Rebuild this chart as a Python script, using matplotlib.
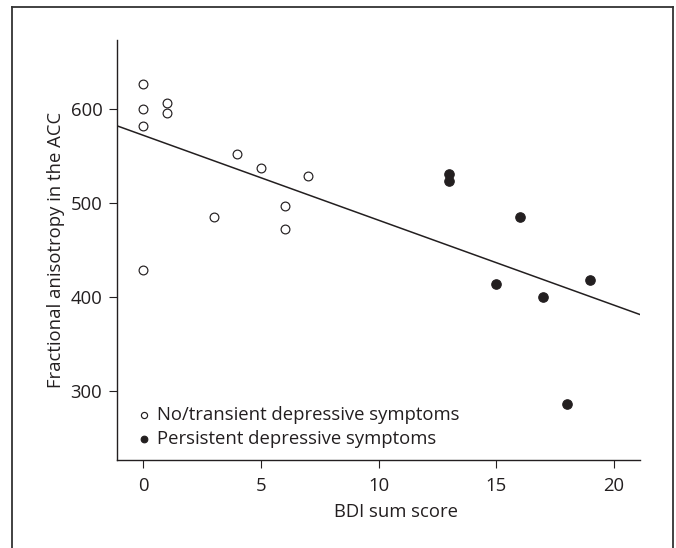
import numpy as np
import matplotlib
matplotlib.use("Agg")
import matplotlib.pyplot as plt
from matplotlib.lines import Line2D

plt.rcParams["font.family"] = ["Open Sans", "DejaVu Sans"]

# BDI sum score vs fractional anisotropy
bdi_transient = [0, 0, 0, 0, 1, 1, 3, 4, 5, 6, 6, 7]
fa_transient = [627, 600, 582, 429, 607, 596, 485, 552, 538, 497, 473, 529]
bdi_persistent = [13, 13, 15, 16, 17, 18, 19]
fa_persistent = [531, 524, 414, 485, 400, 286, 418]

xticks = [0, 5, 10, 15, 20]
yticks = [300, 400, 500, 600]

ink = "#231f20"
fs = 13.3

fig = plt.figure(figsize=(6.76, 5.48), dpi=100)
ax = fig.add_axes([117 / 676, 1 - 460 / 548, 523 / 676, 420 / 548])

xlim = (-1.12, 21.11)
ylim = (226.9, 673.7)

# regression over all subjects
x_all = np.array(bdi_transient + bdi_persistent, dtype=float)
y_all = np.array(fa_transient + fa_persistent, dtype=float)
slope, intercept = np.polyfit(x_all, y_all, 1)
xx = np.array(xlim)
ax.plot(xx, intercept + slope * xx, color=ink, lw=1.1, zorder=1)

ax.scatter(bdi_transient, fa_transient, s=40, facecolor="white",
           edgecolor=ink, linewidth=0.85, zorder=3,
           label="No/transient depressive symptoms")
ax.scatter(bdi_persistent, fa_persistent, s=46, facecolor=ink,
           edgecolor=ink, linewidth=0.85, zorder=3,
           label="Persistent depressive symptoms")

ax.set_xlim(*xlim)
ax.set_ylim(*ylim)
ax.set_xticks(xticks)
ax.set_yticks(yticks)

for side in ["top", "right"]:
    ax.spines[side].set_visible(False)
for side in ["left", "bottom"]:
    ax.spines[side].set_linewidth(1.0)
    ax.spines[side].set_color(ink)

ax.tick_params(axis="both", direction="out", length=5.5, width=0.8,
               color=ink, labelsize=fs, labelcolor=ink)
ax.tick_params(axis="x", pad=7)
ax.tick_params(axis="y", pad=5)

ax.set_xlabel("BDI sum score", fontsize=fs, color=ink)
ax.set_ylabel("Fractional anisotropy in the ACC", fontsize=fs, color=ink)
ax.xaxis.set_label_coords(0.533, -0.103)
ax.yaxis.set_label_coords(-0.1, 0.5)

ax.legend(loc="lower left", bbox_to_anchor=(0.028, 0.012), frameon=False,
          fontsize=fs, markerscale=0.7, handlelength=0.5, handletextpad=0.45,
          labelspacing=0.32, borderaxespad=0, labelcolor=ink)

# outer frame around the figure panel
fc = "#333333"
fig.add_artist(Line2D([12 / 676, 12 / 676], [0, 1 - 7 / 548], color=fc, lw=1.3))
fig.add_artist(Line2D([673 / 676, 673 / 676], [0, 1 - 7 / 548], color=fc, lw=1.3))
fig.add_artist(Line2D([12 / 676, 673 / 676], [1 - 7 / 548, 1 - 7 / 548], color=fc, lw=1.3))

fig.savefig("out.png", dpi=100)
